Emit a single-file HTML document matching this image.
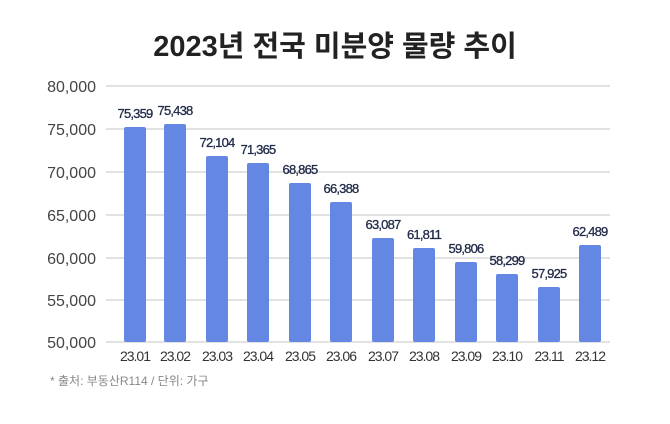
<!DOCTYPE html>
<html><head><meta charset="utf-8"><style>
body{margin:0;width:670px;height:419px;background:#fff;overflow:hidden;font-family:"Liberation Sans","Noto Sans CJK KR",sans-serif}
</style></head><body>
<svg width="670" height="419" xmlns="http://www.w3.org/2000/svg" font-family="Liberation Sans, Noto Sans CJK KR, sans-serif">
<text x="335" y="56" text-anchor="middle" font-size="29" font-weight="bold" fill="#222">2023년 전국 미분양 물량 추이</text>
<g stroke="#d9d9d9" stroke-width="1.5">
<line x1="106" x2="610" y1="86" y2="86"/><line x1="106" x2="610" y1="129" y2="129"/>
<line x1="106" x2="610" y1="172" y2="172"/><line x1="106" x2="610" y1="215" y2="215"/>
<line x1="106" x2="610" y1="258" y2="258"/><line x1="106" x2="610" y1="300" y2="300"/>
<line x1="106" x2="610" y1="342" y2="342"/>
</g>
<g font-size="16" fill="#444" text-anchor="end">
<text x="96" y="92">80,000</text><text x="96" y="135">75,000</text><text x="96" y="178">70,000</text>
<text x="96" y="221">65,000</text><text x="96" y="264">60,000</text><text x="96" y="306">55,000</text>
<text x="96" y="348">50,000</text>
</g>
<g fill="#6387e2">
<rect x="124" y="127" width="22" height="215" rx="2"/>
<rect x="164" y="124" width="22" height="218" rx="2"/>
<rect x="206" y="156" width="22" height="186" rx="2"/>
<rect x="247" y="163" width="22" height="179" rx="2"/>
<rect x="289" y="183" width="22" height="159" rx="2"/>
<rect x="330" y="202" width="22" height="140" rx="2"/>
<rect x="372" y="238" width="22" height="104" rx="2"/>
<rect x="413" y="248" width="22" height="94" rx="2"/>
<rect x="455" y="262" width="22" height="80" rx="2"/>
<rect x="496" y="274" width="22" height="68" rx="2"/>
<rect x="538" y="287" width="22" height="55" rx="2"/>
<rect x="579" y="245" width="22" height="97" rx="2"/>
</g>
<g font-size="13" fill="#1f2a48" text-anchor="middle" letter-spacing="-0.8" stroke="#1f2a48" stroke-width="0.3">
<text x="135" y="118">75,359</text><text x="175" y="115">75,438</text><text x="217" y="147">72,104</text>
<text x="258" y="154">71,365</text><text x="300" y="174">68,865</text><text x="341" y="193">66,388</text>
<text x="383" y="229">63,087</text><text x="424" y="239">61,811</text><text x="466" y="253">59,806</text>
<text x="507" y="265">58,299</text><text x="549" y="278">57,925</text><text x="590" y="236">62,489</text>
</g>
<g font-size="14" fill="#333" text-anchor="middle" letter-spacing="-1">
<text x="135" y="361">23.01</text><text x="175" y="361">23.02</text><text x="217" y="361">23.03</text>
<text x="258" y="361">23.04</text><text x="300" y="361">23.05</text><text x="341" y="361">23.06</text>
<text x="383" y="361">23.07</text><text x="424" y="361">23.08</text><text x="466" y="361">23.09</text>
<text x="507" y="361">23.10</text><text x="549" y="361">23.11</text><text x="590" y="361">23.12</text>
</g>
<text x="50" y="385" font-size="12" fill="#888">* 출처: 부동산R114 / 단위: 가구</text>
</svg>
</body></html>
